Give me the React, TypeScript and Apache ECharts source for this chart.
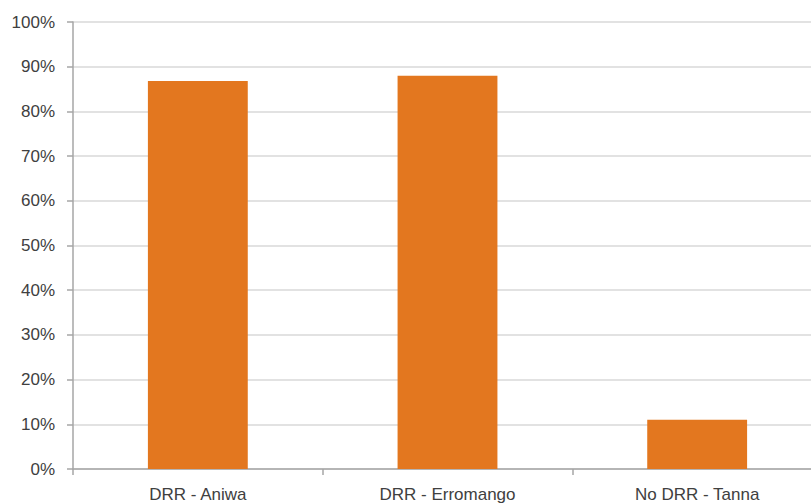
import React, { useEffect, useRef } from "react";
import * as echarts from "echarts";

const categories = ["DRR - Aniwa", "DRR - Erromango", "No DRR - Tanna"];
const values = [0.868, 0.88, 0.11];
const yTicks = [0, 0.1, 0.2, 0.3, 0.4, 0.5, 0.6, 0.7, 0.8, 0.9, 1.0];

export default function App() {
  const ref = useRef<HTMLDivElement>(null);
  useEffect(() => {
    if (!ref.current) return;
    const chart = echarts.init(ref.current, undefined, { renderer: "svg" });
    const font = "Liberation Sans";
    chart.setOption({
      animation: false,
      grid: { left: 73, top: 22, height: 448, width: 749, containLabel: false },
      xAxis: {
        type: "category",
        data: categories,
        axisLine: { show: true, lineStyle: { color: "#a6a6a6", width: 1.5 } },
        axisTick: { show: true, length: 6, alignWithLabel: false, lineStyle: { color: "#a6a6a6", width: 1.5 } },
        axisLabel: { color: "#404040", fontSize: 17, fontFamily: font, margin: 17 },
        splitLine: { show: false },
      },
      yAxis: {
        type: "value",
        min: yTicks[0],
        max: yTicks[yTicks.length - 1],
        interval: 0.1,
        axisLine: { show: true, lineStyle: { color: "#a6a6a6", width: 1.5 } },
        axisTick: { show: true, length: 6, lineStyle: { color: "#a6a6a6", width: 1.5 } },
        axisLabel: {
          color: "#404040",
          fontSize: 17,
          fontFamily: font,
          margin: 18,
          formatter: (v: number) => Math.round(v * 100) + "%",
        },
        splitLine: { show: true, lineStyle: { color: "#d9d9d9", width: 1.5 } },
      },
      series: [
        {
          type: "bar",
          data: values,
          barWidth: "40%",
          itemStyle: { color: "#E3771F" },
        },
      ],
    });
    return () => chart.dispose();
  }, []);
  return (
    <div style={{ position: "fixed", left: 0, top: 0, width: 811, height: 503, overflow: "hidden", background: "#fff" }}>
      <div ref={ref} style={{ width: 822, height: 503 }} />
    </div>
  );
}
